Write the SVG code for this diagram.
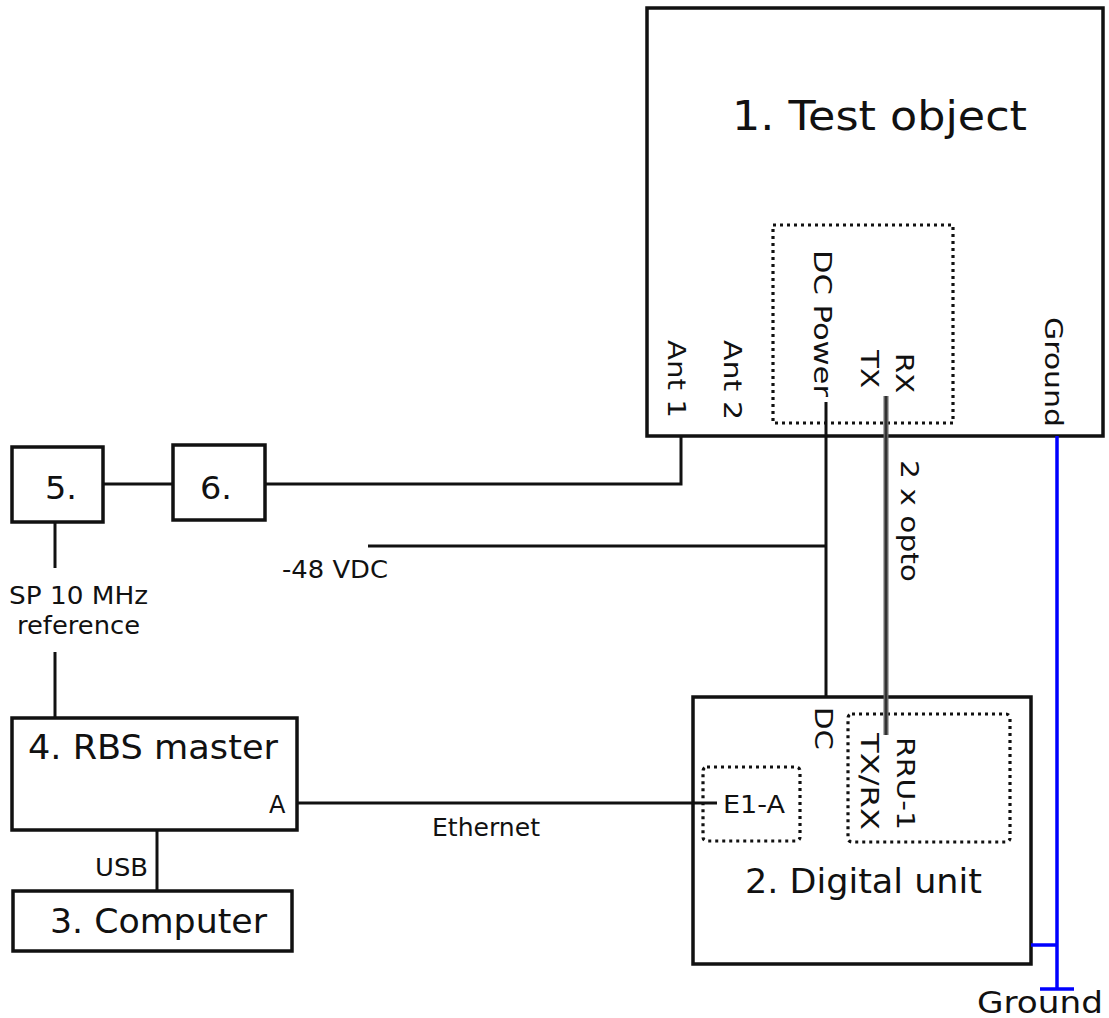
<svg xmlns="http://www.w3.org/2000/svg" width="1109" height="1018" viewBox="0 0 1109 1018">
<style>
  .box{fill:none;stroke:#111;stroke-width:3.5}
  .dot{fill:none;stroke:#111;stroke-width:3.2;stroke-dasharray:3 4}
  .ln{fill:none;stroke:#111;stroke-width:3}
  .gnd{fill:none;stroke:#0000ff;stroke-width:3.5}
  .opto{fill:none;stroke:#666;stroke-width:5}
  text{font-family:"DejaVu Sans","Liberation Sans",sans-serif;fill:#111}
  .big{font-size:40px}
  .mid{font-size:34px}
  .num{font-size:32px}
  .gt{font-size:30px}
  .sm{font-size:24px}
  .rot{font-size:25px}
</style>
<rect width="1109" height="1018" fill="#fff"/>
<g id="test-object">
  <rect class="box" x="647" y="8" width="456" height="428"/>
  <text class="big" x="732" y="130" textLength="295" lengthAdjust="spacingAndGlyphs">1. Test object</text>
  <rect class="dot" x="773" y="225" width="180" height="198"/>
  <text class="rot" transform="translate(677,340) rotate(90)" x="0" y="9" textLength="78" lengthAdjust="spacingAndGlyphs">Ant 1</text>
  <text class="rot" transform="translate(733,340) rotate(90)" x="0" y="9" textLength="80" lengthAdjust="spacingAndGlyphs">Ant 2</text>
  <text class="rot" transform="translate(823,250) rotate(90)" x="0" y="9" textLength="147" lengthAdjust="spacingAndGlyphs">DC Power</text>
  <text class="rot" transform="translate(905,353) rotate(90)" x="0" y="9" textLength="40" lengthAdjust="spacingAndGlyphs">RX</text>
  <text class="rot" transform="translate(870,350) rotate(90)" x="0" y="9" textLength="38" lengthAdjust="spacingAndGlyphs">TX</text>
  <text class="rot" transform="translate(1054,317) rotate(90)" x="0" y="9" textLength="110" lengthAdjust="spacingAndGlyphs">Ground</text>
</g>
<g id="node-5">
  <rect class="box" x="12" y="447" width="91" height="75"/>
  <text class="num" x="45" y="499" textLength="32" lengthAdjust="spacingAndGlyphs">5.</text>
</g>
<g id="node-6">
  <rect class="box" x="173" y="445" width="92" height="75"/>
  <text class="num" x="200" y="499" textLength="32" lengthAdjust="spacingAndGlyphs">6.</text>
</g>
<g id="rbs-master">
  <rect class="box" x="12" y="718" width="285" height="112"/>
  <text class="mid" x="28" y="759" textLength="250" lengthAdjust="spacingAndGlyphs">4. RBS master</text>
  <text class="sm" x="269" y="813">A</text>
</g>
<g id="computer">
  <rect class="box" x="13" y="891" width="279" height="60"/>
  <text class="mid" x="50" y="933" textLength="217" lengthAdjust="spacingAndGlyphs">3. Computer</text>
</g>
<g id="digital-unit">
  <rect class="box" x="693" y="697" width="338" height="267"/>
  <rect class="dot" x="703" y="767" width="97" height="74" rx="4"/>
  <rect class="dot" x="848" y="714" width="162" height="128" rx="4"/>
  <text class="sm" x="723" y="813" textLength="62" lengthAdjust="spacingAndGlyphs">E1-A</text>
  <text class="rot" transform="translate(824,707) rotate(90)" x="0" y="9" textLength="43" lengthAdjust="spacingAndGlyphs">DC</text>
  <text class="rot" transform="translate(906,737) rotate(90)" x="0" y="9" textLength="93" lengthAdjust="spacingAndGlyphs">RRU-1</text>
  <text class="rot" transform="translate(870,733) rotate(90)" x="0" y="9" textLength="97" lengthAdjust="spacingAndGlyphs">TX/RX</text>
  <text class="mid" x="745" y="893" textLength="237" lengthAdjust="spacingAndGlyphs">2. Digital unit</text>
</g>
<g id="connectors">
  <polyline class="ln" points="681,436 681,484 264,484"/>
  <line class="ln" x1="103" y1="484" x2="173" y2="484"/>
  <line class="ln" x1="826" y1="402" x2="826" y2="697"/>
  <line class="ln" x1="368" y1="546" x2="826" y2="546"/>
  <line class="opto" x1="886" y1="396" x2="886" y2="735"/>
  <line stroke="#222" stroke-width="1.5" x1="886" y1="396" x2="886" y2="735"/>
  <line class="ln" x1="55" y1="522" x2="55" y2="568"/>
  <line class="ln" x1="55" y1="652" x2="55" y2="718"/>
  <line class="ln" x1="157" y1="830" x2="157" y2="891"/>
  <line class="ln" x1="297" y1="803" x2="717" y2="803"/>
  <line class="gnd" x1="1057" y1="436" x2="1057" y2="989"/>
  <line class="gnd" x1="1040" y1="989" x2="1074" y2="989"/>
  <line class="gnd" x1="1031" y1="945" x2="1057" y2="945"/>
  <text class="sm" x="9" y="604" textLength="139" lengthAdjust="spacingAndGlyphs">SP 10 MHz</text>
  <text class="sm" x="17" y="634" textLength="123" lengthAdjust="spacingAndGlyphs">reference</text>
  <text class="sm" x="282" y="578" textLength="106" lengthAdjust="spacingAndGlyphs">-48 VDC</text>
  <text class="sm" x="432" y="836" textLength="108" lengthAdjust="spacingAndGlyphs">Ethernet</text>
  <text class="sm" x="95" y="876" textLength="53" lengthAdjust="spacingAndGlyphs">USB</text>
  <text class="rot" transform="translate(910,460) rotate(90)" x="0" y="9" textLength="122" lengthAdjust="spacingAndGlyphs">2 x opto</text>
  <text class="gt" x="977" y="1013" textLength="126" lengthAdjust="spacingAndGlyphs">Ground</text>
</g>
</svg>
